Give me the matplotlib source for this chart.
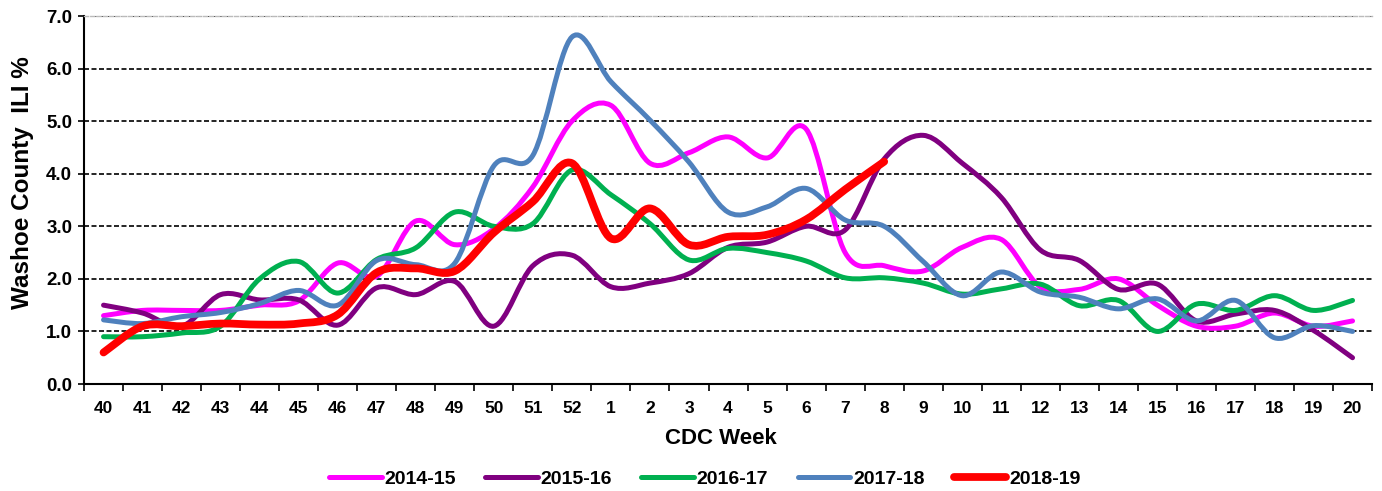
import numpy as np
import matplotlib
matplotlib.use("Agg")
import matplotlib.pyplot as plt
from matplotlib.path import Path
from matplotlib.patches import PathPatch
from matplotlib.lines import Line2D

plt.rcParams['font.family'] = ['Liberation Sans', 'DejaVu Sans']
plt.rcParams['font.weight'] = 'bold'

# ---------- data ----------
weeks = [40, 41, 42, 43, 44, 45, 46, 47, 48, 49, 50, 51, 52,
         1, 2, 3, 4, 5, 6, 7, 8, 9, 10, 11, 12, 13, 14, 15, 16, 17, 18, 19, 20]

s2014 = [1.3, 1.4, 1.4, 1.4, 1.5, 1.58, 2.3, 2.05, 3.1, 2.65, 2.95, 3.75, 5.0,
         5.3, 4.2, 4.4, 4.7, 4.3, 4.85, 2.5, 2.25, 2.15, 2.6, 2.75, 1.85, 1.8,
         2.0, 1.5, 1.1, 1.1, 1.35, 1.1, 1.2]
s2015 = [1.5, 1.35, 1.1, 1.7, 1.6, 1.6, 1.12, 1.83, 1.7, 1.95, 1.1, 2.25, 2.45,
         1.85, 1.92, 2.1, 2.6, 2.7, 3.0, 2.93, 4.28, 4.73, 4.2, 3.55, 2.55, 2.35,
         1.8, 1.9, 1.2, 1.33, 1.4, 1.02, 0.5]
s2016 = [0.9, 0.9, 0.97, 1.1, 2.0, 2.33, 1.73, 2.37, 2.59, 3.27, 3.0, 3.05, 4.07,
         3.6, 3.05, 2.36, 2.58, 2.5, 2.34, 2.02, 2.02, 1.92, 1.71, 1.81, 1.9, 1.49,
         1.59, 1.0, 1.52, 1.4, 1.68, 1.4, 1.59]
s2017 = [1.22, 1.15, 1.28, 1.36, 1.53, 1.78, 1.5, 2.35, 2.27, 2.3, 4.15, 4.35, 6.6,
         5.75, 5.02, 4.22, 3.27, 3.37, 3.72, 3.12, 3.0, 2.33, 1.68, 2.13, 1.75, 1.65,
         1.43, 1.62, 1.2, 1.59, 0.88, 1.11, 1.0]
s2018 = [0.6, 1.1, 1.1, 1.15, 1.13, 1.15, 1.32, 2.12, 2.2, 2.15, 2.88, 3.47, 4.2,
         2.77, 3.34, 2.65, 2.8, 2.84, 3.13, 3.7, 4.23]

labels = ['2014-15', '2015-16', '2016-17', '2017-18', '2018-19']
series = [s2014, s2015, s2016, s2017, s2018]
colors = ['#FF00FF', '#800080', '#00B050', '#4F81BD', '#FF0000']
widths = [3.6, 3.6, 3.6, 3.6, 5.6]


def smooth_path(y):
    # Excel style smoothed line: cubic bezier through every point
    x = np.arange(len(y), dtype=float)
    y = np.asarray(y, dtype=float)
    px = np.concatenate([[x[0]], x, [x[-1]]])
    py = np.concatenate([[y[0]], y, [y[-1]]])
    verts = [(x[0], y[0])]
    codes = [Path.MOVETO]
    for i in range(len(y) - 1):
        j = i + 1
        c1 = (px[j] + (px[j + 1] - px[j - 1]) / 6, py[j] + (py[j + 1] - py[j - 1]) / 6)
        c2 = (px[j + 1] - (px[j + 2] - px[j]) / 6, py[j + 1] - (py[j + 2] - py[j]) / 6)
        verts += [c1, c2, (x[i + 1], y[i + 1])]
        codes += [Path.CURVE4] * 3
    return Path(verts, codes)


fig = plt.figure(figsize=(13.82, 4.91), dpi=100)
ax = fig.add_axes([0.0608, 0.2179, 0.9320, 0.7495])

for s, c, w in zip(series, colors, widths):
    patch = PathPatch(smooth_path(s), facecolor='none', edgecolor=c, lw=w,
                      capstyle='round', joinstyle='round', transform=ax.transData)
    ax.add_patch(patch)

ax.set_xlim(-0.5, len(weeks) - 0.5)
ax.set_ylim(0, 7)

ax.set_xticks(np.arange(len(weeks)))
ax.set_xticklabels([str(w) for w in weeks], fontsize=12.5, fontweight='bold')
ax.set_xticks(np.arange(len(weeks) + 1) - 0.5, minor=True)
ax.tick_params(axis='x', which='major', length=0, pad=12)
ax.tick_params(axis='x', which='minor', length=5, width=1.2, direction='out')

ax.set_yticks(np.arange(0, 8, 1))
ax.set_yticklabels(['%.1f' % v for v in np.arange(0, 8, 1)], fontsize=13.5, fontweight='bold')
ax.tick_params(axis='y', length=4.5, width=1.2, pad=4, direction='out')

ax.yaxis.grid(True, color='black', linestyle=(0, (3, 1.5)), linewidth=1.2)
ax.set_axisbelow(True)

ax.spines['right'].set_visible(False)
ax.spines['top'].set_color('#bbbbbb')
ax.spines['top'].set_linestyle((0, (3, 1.5)))
ax.spines['top'].set_linewidth(1.0)
ax.spines['left'].set_linewidth(1.5)
ax.spines['bottom'].set_linewidth(1.5)

ax.set_xlabel('CDC Week', fontsize=16, fontweight='bold')
ax.xaxis.set_label_coords(0.4946, -0.12)
ax.set_ylabel('Washoe County  ILI %', fontsize=17.5, fontweight='bold')
ax.yaxis.set_label_coords(-0.039, 0.546)

handles = [Line2D([], [], color=c, lw=w, solid_capstyle='round') for c, w in zip(colors, widths)]
fig.legend(handles, labels, loc='center', bbox_to_anchor=(0.51, 0.024), ncol=5,
           frameon=False, prop={'size': 14, 'weight': 'bold'},
           handlelength=2.7, handletextpad=0.15, columnspacing=1.5)

fig.savefig('out.png', dpi=100)
